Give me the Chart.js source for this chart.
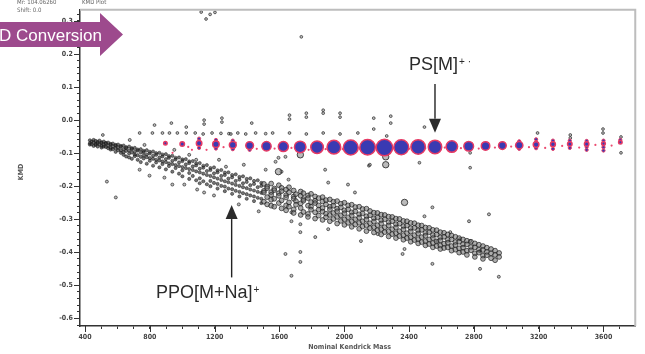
<!DOCTYPE html>
<html>
<head>
<meta charset="utf-8">
<script src="https://cdn.jsdelivr.net/npm/chart.js@4.4.1/dist/chart.umd.min.js"></script>
<style>
  html, body { margin: 0; padding: 0; background: #fff; overflow: hidden; }
  canvas { display: block; }
</style>
</head>
<body>
<canvas id="kmd" width="645" height="354"></canvas>
<script>
// Kendrick base unit (styrene repeat) and KMD shift
const baseUnit = '104.06260';
const shiftValue = '0.0';

// Axis tick labels
const xTickLabels = [400, 800, 1200, 1600, 2000, 2400, 2800, 3200, 3600];
const yTickLabels = [0.3, 0.2, 0.1, 0.0, -0.1, -0.2, -0.3, -0.4, -0.5, -0.6];

// PS [M]+· oligomer series: nominal Kendrick mass, KMD, marker radius (intensity)
const psMass = [896, 1000, 1104, 1208, 1312, 1416, 1520, 1624, 1728, 1832, 1936, 2040, 2144, 2248,
                2352, 2456, 2560, 2664, 2768, 2872, 2976, 3080, 3184, 3288, 3392, 3496, 3600, 3704];
const psKmd  = [-0.070, -0.072, -0.070, -0.073, -0.075, -0.077, -0.079, -0.080, -0.081, -0.082, -0.082, -0.083, -0.082, -0.083,
                -0.082, -0.081, -0.081, -0.080, -0.079, -0.078, -0.077, -0.076, -0.074, -0.073, -0.072, -0.072, -0.071, -0.067];
const psSize = [2.5, 3, 3.5, 4, 4.2, 4.6, 5.4, 5.8, 6.5, 7, 7.6, 8.2, 8.5, 9,
                8.2, 8, 7.5, 6.5, 5.6, 5, 4.6, 4.4, 3.6, 3.2, 3, 3, 2.6, 2.5];

// PS isotope / satellite peaks
const psSatellite = [[1104, -0.056], [1104, -0.084], [1208, -0.060], [1208, -0.086], [1312, -0.062], [1312, -0.088],
  [1416, -0.090], [3080, -0.064], [3080, -0.087], [3184, -0.058], [3184, -0.066], [3184, -0.085], [3288, -0.062],
  [3288, -0.087], [3392, -0.062], [3392, -0.084], [3496, -0.063], [3496, -0.081], [3496, -0.090], [3600, -0.062],
  [3600, -0.082], [3600, -0.092], [3704, -0.060]];

// Minor red peaks along the PS row
const psMinor = [[940, -0.099], [1037, -0.081], [1060, -0.090], [1150, -0.090], [1255, -0.082], [1330, -0.068],
  [1460, -0.087], [1570, -0.086], [1674, -0.084], [1780, -0.090], [1885, -0.088], [1990, -0.088], [2095, -0.087],
  [2300, -0.086], [2400, -0.087], [2500, -0.085], [2620, -0.083], [2720, -0.085], [2830, -0.086], [2930, -0.083],
  [3030, -0.080], [3140, -0.082], [3240, -0.084], [3345, -0.078], [3450, -0.083], [3550, -0.075], [3650, -0.077]];

// PPO [M+Na]+ band, low mass part: mass followed by KMD values
const ppoLow = [
  [430, -0.061, -0.070, -0.074], [441, -0.065, -0.073], [453, -0.060, -0.067, -0.078], [466, -0.063, -0.072, -0.075],
  [478, -0.066, -0.070, -0.080], [489, -0.062, -0.074], [502, -0.067, -0.069, -0.078, -0.083], [516, -0.065, -0.075, -0.080],
  [529, -0.069, -0.071, -0.081], [543, -0.068, -0.078, -0.085], [558, -0.072, -0.074, -0.084, -0.089], [572, -0.071, -0.080, -0.088],
  [589, -0.075, -0.077, -0.085, -0.096], [604, -0.074, -0.084, -0.091], [621, -0.078, -0.081, -0.092, -0.099],
  [638, -0.077, -0.088, -0.097, -0.105], [654, -0.082, -0.085, -0.093, -0.110], [672, -0.080, -0.092, -0.101, -0.113],
  [689, -0.085, -0.088, -0.098, -0.117], [707, -0.084, -0.096, -0.104, -0.109], [725, -0.089, -0.092, -0.106, -0.120],
  [744, -0.088, -0.098, -0.111, -0.127], [762, -0.093, -0.097, -0.107, -0.116], [781, -0.091, -0.104, -0.112, -0.132],
  [800, -0.096, -0.101, -0.115, -0.123], [820, -0.095, -0.108, -0.117, -0.138], [839, -0.100, -0.105, -0.120, -0.128],
  [859, -0.099, -0.113, -0.122, -0.143], [878, -0.104, -0.110, -0.125, -0.133], [899, -0.103, -0.118, -0.127, -0.149],
  [918, -0.109, -0.114, -0.131, -0.139], [939, -0.108, -0.123, -0.133, -0.156], [959, -0.114, -0.119, -0.136, -0.145],
  [980, -0.113, -0.128, -0.139, -0.162], [1001, -0.119, -0.124, -0.142, -0.152, -0.170], [1022, -0.118, -0.134, -0.145],
  [1043, -0.125, -0.130, -0.148, -0.160, -0.178], [1065, -0.124, -0.140, -0.151, -0.169], [1086, -0.131, -0.137, -0.155, -0.182],
  [1108, -0.130, -0.147, -0.158, -0.176, -0.191], [1130, -0.138, -0.144, -0.162, -0.185], [1152, -0.136, -0.154, -0.166, -0.194],
  [1174, -0.145, -0.151, -0.169, -0.184, -0.200], [1196, -0.143, -0.161, -0.173, -0.190], [1218, -0.152, -0.158, -0.177, -0.193, -0.207],
  [1241, -0.151, -0.169, -0.181, -0.199], [1263, -0.159, -0.166, -0.185, -0.201, -0.215], [1285, -0.158, -0.177, -0.188, -0.207],
  [1308, -0.166, -0.173, -0.192, -0.209, -0.223], [1330, -0.164, -0.184, -0.196, -0.214], [1353, -0.172, -0.180, -0.199, -0.217, -0.231],
  [1375, -0.170, -0.191, -0.203, -0.221], [1398, -0.178, -0.187, -0.206, -0.224, -0.238], [1420, -0.176, -0.197, -0.210, -0.228],
  [1443, -0.184, -0.193, -0.213, -0.231, -0.245], [1466, -0.182, -0.203, -0.217, -0.235], [1488, -0.190, -0.199, -0.220, -0.238, -0.251]
];

// PPO [M+Na]+ band, high mass part
const ppoHigh = [
  [1504, -0.193, -0.214, -0.219, -0.247], [1524, -0.201, -0.206, -0.233, -0.255], [1549, -0.192, -0.218, -0.226, -0.241, -0.259],
  [1568, -0.207, -0.212, -0.238, -0.262], [1596, -0.197, -0.221, -0.229, -0.251], [1613, -0.205, -0.215, -0.243, -0.267],
  [1641, -0.210, -0.227, -0.234, -0.258, -0.273], [1659, -0.203, -0.219, -0.249, -0.262], [1688, -0.213, -0.231, -0.238, -0.270, -0.281],
  [1702, -0.224, -0.245, -0.256], [1731, -0.216, -0.229, -0.252, -0.266, -0.287], [1748, -0.221, -0.239, -0.244, -0.278],
  [1776, -0.228, -0.236, -0.259, -0.284, -0.293], [1795, -0.223, -0.248, -0.262, -0.271], [1820, -0.231, -0.244, -0.251, -0.279, -0.298],
  [1842, -0.236, -0.258, -0.271, -0.289], [1866, -0.233, -0.246, -0.266, -0.277, -0.302], [1887, -0.242, -0.255, -0.283, -0.294],
  [1911, -0.240, -0.262, -0.270, -0.287, -0.306], [1933, -0.247, -0.259, -0.281, -0.299], [1956, -0.245, -0.268, -0.276, -0.293, -0.313],
  [1979, -0.253, -0.264, -0.288, -0.305], [2001, -0.250, -0.273, -0.282, -0.300, -0.317], [2024, -0.258, -0.270, -0.294, -0.311],
  [2046, -0.256, -0.279, -0.289, -0.306, -0.323], [2068, -0.263, -0.276, -0.300, -0.316], [2092, -0.262, -0.285, -0.295, -0.311, -0.329],
  [2113, -0.269, -0.282, -0.306, -0.322], [2137, -0.268, -0.291, -0.301, -0.318, -0.336], [2159, -0.275, -0.288, -0.312, -0.327],
  [2183, -0.280, -0.297, -0.307, -0.324, -0.340], [2205, -0.281, -0.294, -0.318, -0.333], [2228, -0.286, -0.303, -0.313, -0.330, -0.346],
  [2250, -0.287, -0.300, -0.324, -0.339], [2274, -0.292, -0.309, -0.319, -0.336, -0.352], [2296, -0.293, -0.306, -0.330, -0.345],
  [2319, -0.298, -0.315, -0.325, -0.342, -0.357], [2341, -0.299, -0.313, -0.336, -0.351], [2365, -0.305, -0.321, -0.331, -0.348, -0.362],
  [2387, -0.306, -0.319, -0.342, -0.357], [2410, -0.311, -0.327, -0.337, -0.354, -0.368], [2433, -0.312, -0.326, -0.348, -0.363],
  [2456, -0.318, -0.334, -0.343, -0.360, -0.373], [2478, -0.319, -0.332, -0.354, -0.369], [2501, -0.325, -0.341, -0.350, -0.366, -0.379],
  [2524, -0.326, -0.339, -0.361, -0.375], [2547, -0.332, -0.348, -0.357, -0.372, -0.385], [2570, -0.333, -0.346, -0.367, -0.381],
  [2593, -0.339, -0.355, -0.364, -0.379, -0.390], [2616, -0.341, -0.353, -0.374, -0.387], [2639, -0.346, -0.362, -0.371, -0.385],
  [2662, -0.349, -0.361, -0.381, -0.395], [2686, -0.353, -0.369, -0.378, -0.392], [2709, -0.357, -0.368, -0.388, -0.401],
  [2733, -0.361, -0.376, -0.386, -0.399], [2757, -0.365, -0.376, -0.395, -0.408], [2782, -0.368, -0.384, -0.394],
  [2806, -0.373, -0.385, -0.403, -0.414], [2831, -0.377, -0.392, -0.401], [2856, -0.381, -0.393, -0.410, -0.420],
  [2880, -0.386, -0.399, -0.409], [2906, -0.390, -0.403, -0.418], [2931, -0.395, -0.408, -0.424], [2956, -0.402, -0.414]
];

// Sparse peaks around the PPO band
const ppoFringe = [[535, -0.186], [590, -0.234], [676, -0.060], [737, -0.150], [767, -0.075], [798, -0.168],
  [890, -0.174], [939, -0.195], [951, -0.090], [1013, -0.195], [1043, -0.105], [1086, -0.120], [1092, -0.210],
  [1135, -0.219], [1196, -0.228], [1227, -0.120], [1270, -0.141], [1349, -0.255], [1380, -0.135], [1472, -0.276],
  [1515, -0.150], [1576, -0.126], [1594, -0.114], [1613, -0.156], [1637, -0.111], [1656, -0.180], [1674, -0.279],
  [1674, -0.306], [1729, -0.315], [1729, -0.339], [1729, -0.399], [1729, -0.429], [1637, -0.405], [1674, -0.471],
  [1821, -0.354], [1882, -0.150], [1901, -0.189], [1901, -0.330], [2023, -0.195], [2066, -0.219], [2103, -0.366],
  [2158, -0.135], [2207, -0.345], [2360, -0.405], [2372, -0.390], [2495, -0.291], [2544, -0.264], [2544, -0.435],
  [2574, -0.366], [2654, -0.339], [2715, -0.360], [2770, -0.306], [2777, -0.366], [2838, -0.396], [2838, -0.450],
  [2893, -0.285], [2954, -0.474]];

// Larger unassigned peaks
const bigPeaks = [[1729, -0.105], [2256, -0.111], [2256, -0.135], [2372, -0.249], [1594, -0.156]];

// Peaks above the PS row and isolated high-KMD peaks
const upperPeaks = [[510, -0.045], [737, -0.039], [816, -0.039], [829, -0.015], [878, -0.039], [921, -0.039],
  [933, -0.009], [970, -0.039], [1025, -0.021], [1025, -0.039], [1080, -0.039], [1129, -0.042], [1135, 0.000],
  [1135, -0.012], [1184, -0.039], [1239, -0.040], [1245, 0.006], [1245, -0.006], [1288, -0.041], [1300, -0.042],
  [1343, -0.039], [1392, -0.042], [1429, -0.009], [1453, -0.039], [1515, -0.041], [1558, -0.039], [1662, 0.015],
  [1662, 0.003], [1662, -0.039], [1766, 0.021], [1766, 0.009], [1766, -0.042], [1870, 0.030], [1870, 0.021],
  [1870, -0.039], [1974, 0.021], [1974, 0.009], [1974, -0.042], [2084, -0.039], [2152, -0.138], [2182, 0.006],
  [2182, -0.027], [2262, -0.048], [2287, 0.012], [2287, -0.009], [2464, -0.129], [2495, -0.021], [2777, -0.099],
  [2777, -0.144], [3193, -0.039], [3395, -0.045], [3395, -0.054], [3597, -0.027], [3597, -0.039], [3708, -0.051],
  [3708, -0.099], [1117, 0.327], [1147, 0.306], [1172, 0.320], [1202, 0.326], [1735, 0.252]];

const toPoints = list => list.map(([x, y]) => ({ x, y }));
const fromColumns = rows => rows.flatMap(([m, ...ks]) => ks.map(k => ({ x: m, y: k })));

const tickFamily = "'Liberation Sans Narrow', 'DejaVu Sans Condensed', 'Liberation Sans', sans-serif";
const labelFamily = "'Liberation Sans', Arial, sans-serif";

// Minor tick positions (majors every 400 / 0.1)
const xMinorTicks = [];
for (let v = 400; v <= 3700; v += 100) xMinorTicks.push(v);
const yMinorTicks = [];
for (let i = -31; i <= 16; i++) yMinorTicks.push(Math.round(i * 2) / 100);

const isMajorY = v => Math.abs(v * 10 - Math.round(v * 10)) < 1e-6;

// Labels, arrows and header text
const decorations = {
  id: 'decorations',
  afterDraw(chart) {
    const { ctx, chartArea: a, scales: { x, y } } = chart;
    ctx.save();

    // light frame on top and right
    ctx.strokeStyle = '#bdbdbd';
    ctx.lineWidth = 2;
    ctx.beginPath();
    ctx.moveTo(a.left, a.top);
    ctx.lineTo(a.right, a.top);
    ctx.lineTo(a.right, a.bottom);
    ctx.stroke();

    // longer major tick marks
    ctx.strokeStyle = '#333';
    ctx.lineWidth = 1;
    ctx.beginPath();
    yTickLabels.forEach(v => {
      const py = Math.round(y.getPixelForValue(v)) + 0.5;
      ctx.moveTo(a.left - 6, py); ctx.lineTo(a.left, py);
    });
    xTickLabels.forEach(v => {
      const px = Math.round(x.getPixelForValue(v)) + 0.5;
      ctx.moveTo(px, a.bottom); ctx.lineTo(px, a.bottom + 6);
    });
    ctx.stroke();

    // axis titles
    ctx.fillStyle = '#555';
    ctx.font = `bold 7px ${tickFamily}`;
    ctx.textAlign = 'center';
    ctx.textBaseline = 'middle';
    ctx.fillText('Nominal Kendrick Mass', (a.left + a.right) / 2 - 8, 347);
    ctx.save();
    ctx.translate(21, 172);
    ctx.rotate(-Math.PI / 2);
    ctx.fillText('KMD', 0, 0);
    ctx.restore();

    // header
    ctx.textAlign = 'left';
    ctx.textBaseline = 'alphabetic';
    ctx.fillStyle = '#666';
    ctx.font = `6px ${tickFamily}`;
    ctx.fillText('Mr: ' + baseUnit, 17, 4);
    ctx.fillText('Shift: ' + shiftValue, 17, 12);
    ctx.fillText('KMD Plot', 82, 4);

    // series annotations
    ctx.fillStyle = '#2b2b2b';
    ctx.strokeStyle = '#222';
    const arrow = (m, k0, k1) => {
      const px = x.getPixelForValue(m);
      const p0 = y.getPixelForValue(k0);
      const p1 = y.getPixelForValue(k1);
      const dir = Math.sign(p1 - p0);
      const headLen = 14, half = 6;
      ctx.lineWidth = 1.4;
      ctx.beginPath();
      ctx.moveTo(px, p0);
      ctx.lineTo(px, p1 - dir * headLen);
      ctx.stroke();
      ctx.beginPath();
      ctx.moveTo(px, p1);
      ctx.lineTo(px - half, p1 - dir * headLen);
      ctx.lineTo(px + half, p1 - dir * headLen);
      ctx.closePath();
      ctx.fill();
    };
    const label = (text, sup, m, k) => {
      const px = x.getPixelForValue(m);
      const py = y.getPixelForValue(k);
      ctx.font = `18px ${labelFamily}`;
      ctx.fillText(text, px, py);
      const w = ctx.measureText(text).width;
      ctx.font = `10px ${labelFamily}`;
      ctx.fillText(sup, px + w + 1, py - 5);
    };
    label('PS[M]', '+ \u00B7', 2400, 0.151);
    arrow(2560, 0.109, -0.038);
    label('PPO[M+Na]', '+', 838, -0.539);
    arrow(1305, -0.476, -0.257);

    // conversion banner
    ctx.fillStyle = '#9d4a8d';
    ctx.beginPath();
    ctx.moveTo(0, 22);
    ctx.lineTo(100, 22);
    ctx.lineTo(100, 13);
    ctx.lineTo(123, 34.5);
    ctx.lineTo(100, 56);
    ctx.lineTo(100, 47);
    ctx.lineTo(0, 47);
    ctx.closePath();
    ctx.fill();
    ctx.fillStyle = '#fff';
    ctx.font = `17px ${labelFamily}`;
    ctx.fillText('D Conversion', -1, 40.5);

    ctx.restore();
  }
};

const grayPoint = {
  backgroundColor: 'rgba(120,120,120,0.5)',
  borderColor: 'rgba(30,30,30,0.8)',
  borderWidth: 0.8
};

new Chart(document.getElementById('kmd'), {
  type: 'scatter',
  data: {
    datasets: [
      {
        label: 'PS',
        data: psMass.map((m, i) => ({ x: m, y: psKmd[i] })),
        pointRadius: psSize.map(r => r - 0.75),
        backgroundColor: '#3a3ab2',
        borderColor: '#e63a64',
        borderWidth: 1.5
      },
      {
        label: 'PS satellite',
        data: toPoints(psSatellite),
        pointRadius: 1.6,
        backgroundColor: '#3a3ab2',
        borderColor: '#e63a64',
        borderWidth: 1
      },
      {
        label: 'PS minor',
        data: toPoints(psMinor),
        pointRadius: 1.1,
        backgroundColor: '#ec4a70',
        borderWidth: 0
      },
      { label: 'large', data: toPoints(bigPeaks), pointRadius: 3.2, ...grayPoint, borderWidth: 1 },
      {
        label: 'PPO high', data: fromColumns(ppoHigh), pointRadius: 2.4,
        backgroundColor: 'rgba(105,105,105,0.55)', borderColor: 'rgba(25,25,25,0.85)', borderWidth: 0.8
      },
      {
        label: 'PPO low', data: fromColumns(ppoLow), pointRadius: 1.6,
        backgroundColor: 'rgba(45,45,45,0.65)', borderColor: 'rgba(20,20,20,0.8)', borderWidth: 0.6
      },
      { label: 'fringe', data: toPoints(ppoFringe), pointRadius: 1.5, ...grayPoint },
      { label: 'upper', data: toPoints(upperPeaks), pointRadius: 1.4, ...grayPoint }
    ]
  },
  options: {
    responsive: false,
    animation: false,
    events: [],
    layout: { padding: { left: 0, right: 5, top: 7, bottom: 0 } },
    plugins: { legend: { display: false }, tooltip: { enabled: false } },
    scales: {
      x: {
        type: 'linear',
        min: 369,
        max: 3796,
        afterBuildTicks: s => { s.ticks = xMinorTicks.map(v => ({ value: v })); },
        afterFit: s => { s.height = 28; },
        ticks: {
          autoSkip: false,
          maxRotation: 0,
          padding: 4,
          color: '#444',
          font: { family: tickFamily, size: 7, weight: 'bold' },
          callback: v => (xTickLabels.includes(v) ? String(v) : '')
        },
        grid: { drawOnChartArea: false, tickLength: 3, color: '#333' },
        border: { display: true, color: '#333', width: 1.5 }
      },
      y: {
        type: 'linear',
        min: -0.623,
        max: 0.334,
        afterBuildTicks: s => { s.ticks = yMinorTicks.map(v => ({ value: v })); },
        afterFit: s => { s.width = 80; },
        ticks: {
          autoSkip: false,
          padding: 4,
          color: '#444',
          font: { family: tickFamily, size: 7, weight: 'bold' },
          callback: v => (isMajorY(v) ? (Math.abs(v) < 1e-9 ? '0.0' : v.toFixed(1)) : '')
        },
        grid: { drawOnChartArea: false, tickLength: 3, color: '#333' },
        border: { display: true, color: '#333', width: 1.5 }
      }
    }
  },
  plugins: [decorations]
});
</script>
</body>
</html>
